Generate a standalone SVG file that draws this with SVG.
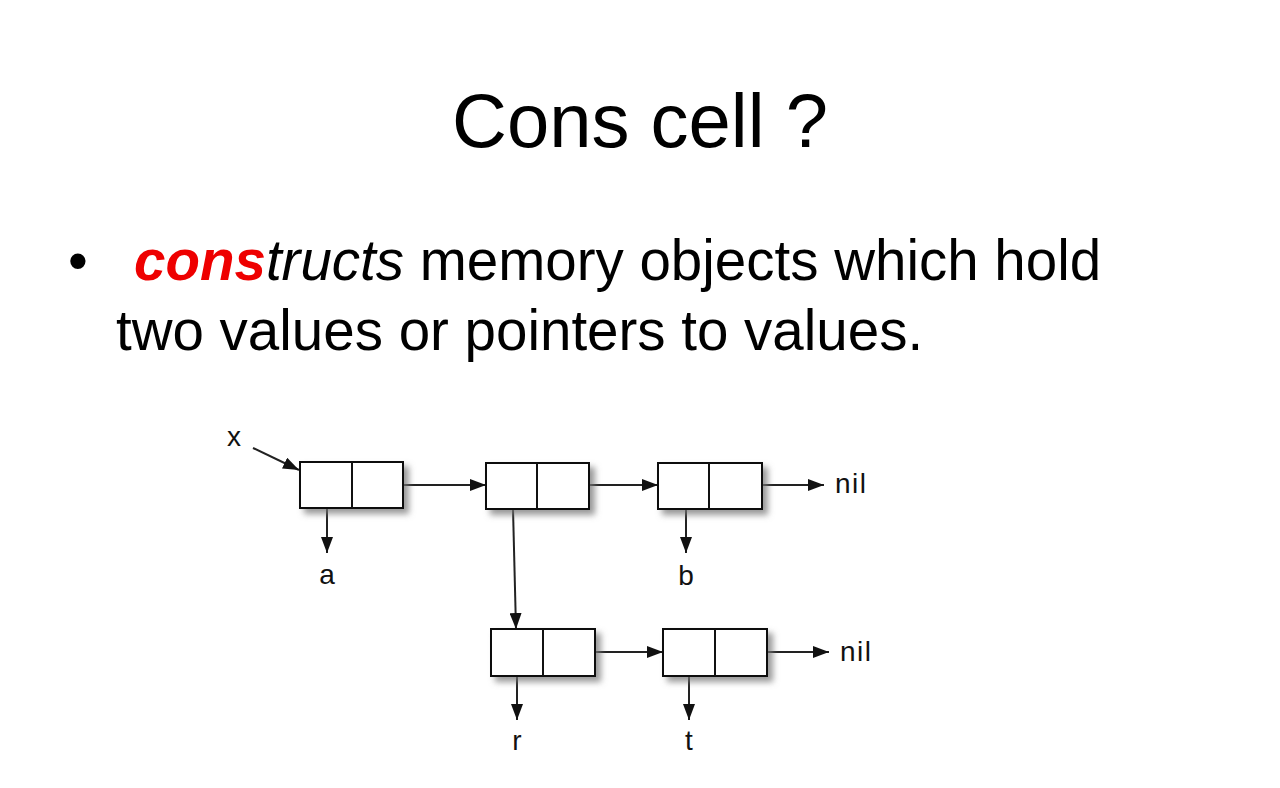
<svg xmlns="http://www.w3.org/2000/svg" width="1280" height="788" viewBox="0 0 1280 788">
<style>
.t{font-family:"Liberation Sans",Arial,sans-serif;fill:#000}
.lbl{font-family:"Liberation Sans",Arial,sans-serif;font-size:28px;fill:#111}
.cell{fill:#fff;stroke:#111;stroke-width:2}
.div{stroke:#111;stroke-width:2}
.con{stroke:#222;stroke-width:2;fill:none;marker-end:url(#ah)}
</style>
<defs>
<marker id="ah" viewBox="0 0 16 12" refX="16" refY="6" markerWidth="16" markerHeight="12" markerUnits="userSpaceOnUse" orient="auto">
<path d="M0,0 L16,6 L0,12 Z" fill="#111"/>
</marker>
<filter id="sh" x="-20%" y="-30%" width="150%" height="180%">
<feDropShadow dx="5" dy="5" stdDeviation="3" flood-color="#777" flood-opacity="0.75"/>
</filter>
</defs>
<rect width="1280" height="788" fill="#fff"/>
<text class="t" x="640" y="147" font-size="76" text-anchor="middle">Cons cell ?</text>
<text class="t" x="68" y="280" font-size="56.5">•</text>
<text class="t" x="134" y="280" font-size="56.5"><tspan font-weight="bold" font-style="italic" fill="#ee0000">cons</tspan><tspan font-style="italic">tructs</tspan> memory objects which hold</text>
<text class="t" x="116" y="350" font-size="56.5">two values or pointers to values.</text>
<g id="connectors">
<path class="con" d="M253,448 L299,470"/>
<path class="con" d="M403,485 L486,485"/>
<path class="con" d="M589,485 L658,485"/>
<path class="con" d="M762,485 L824,485"/>
<path class="con" d="M327,509 L327,553"/>
<path class="con" d="M686,509 L686,553"/>
<path class="con" d="M513,509 L516,629"/>
<path class="con" d="M595,652 L663,652"/>
<path class="con" d="M767,652 L829,652"/>
<path class="con" d="M517,676 L517,720"/>
<path class="con" d="M689,676 L689,720"/>
</g>
<g id="cell1"><rect class="cell" filter="url(#sh)" x="300" y="462" width="103" height="46"/><line class="div" x1="352" y1="462" x2="352" y2="508"/></g>
<g id="cell2"><rect class="cell" filter="url(#sh)" x="486" y="463" width="103" height="46"/><line class="div" x1="537" y1="463" x2="537" y2="509"/></g>
<g id="cell3"><rect class="cell" filter="url(#sh)" x="658" y="463" width="104" height="46"/><line class="div" x1="709" y1="463" x2="709" y2="509"/></g>
<g id="cell4"><rect class="cell" filter="url(#sh)" x="491" y="629" width="104" height="47"/><line class="div" x1="543" y1="629" x2="543" y2="676"/></g>
<g id="cell5"><rect class="cell" filter="url(#sh)" x="663" y="629" width="104" height="47"/><line class="div" x1="715" y1="629" x2="715" y2="676"/></g>
<g id="labels">
<text class="lbl" x="234" y="446" text-anchor="middle">x</text>
<text class="lbl" x="327" y="584" text-anchor="middle">a</text>
<text class="lbl" x="686" y="585" text-anchor="middle">b</text>
<text class="lbl" x="835" y="493" letter-spacing="1.5">nil</text>
<text class="lbl" x="840" y="661" letter-spacing="1.5">nil</text>
<text class="lbl" x="517" y="750" text-anchor="middle">r</text>
<text class="lbl" x="689" y="750" text-anchor="middle">t</text>
</g>
</svg>
